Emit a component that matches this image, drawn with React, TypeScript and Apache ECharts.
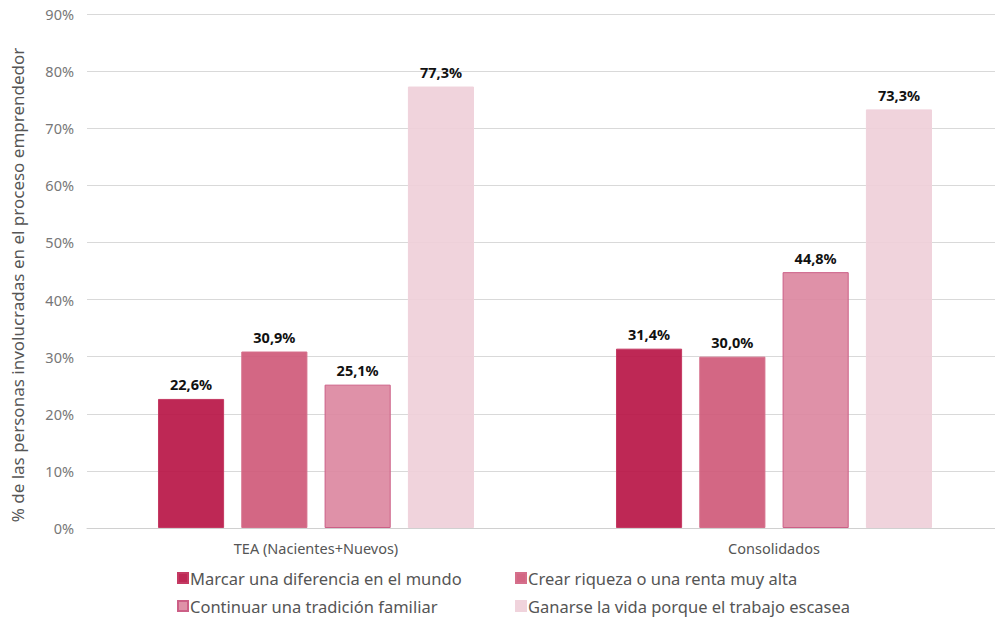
import React, { useEffect, useRef } from "react";
import * as echarts from "echarts";

const categories = ["TEA (Nacientes+Nuevos)", "Consolidados"];
const seriesNames = [
  "Marcar una diferencia en el mundo",
  "Crear riqueza o una renta muy alta",
  "Continuar una tradición familiar",
  "Ganarse la vida porque el trabajo escasea",
];
const marcar = [22.6, 31.4];
const crear = [30.9, 30.0];
const continuar = [25.1, 44.8];
const ganarse = [77.3, 73.3];
const seriesValues = [marcar, crear, continuar, ganarse];
const yAxisTitle = "% de las personas involucradas en el proceso emprendedor";

const colors = [
  "rgba(183,17,66,0.9)",
  "rgba(206,87,119,0.9)",
  "rgba(219,133,158,0.9)",
  "rgba(238,206,216,0.9)",
];
const borders = ["#C43A63", "#D56F8B", "#CC5F86", "#F0D3DC"];
const FONT = "Noto Sans";

const legendPos = [
  { left: 177, top: 568 },
  { left: 515, top: 568 },
  { left: 177, top: 596 },
  { left: 515, top: 596 },
];

export default function App() {
  const ref = useRef<HTMLDivElement>(null);
  useEffect(() => {
    if (!ref.current) return;
    const chart = echarts.init(ref.current, undefined, { renderer: "svg" });
    chart.setOption({
      animation: false,
      textStyle: { fontFamily: FONT },
      grid: { left: 87, width: 916, top: 14, height: 514, outerBoundsMode: "none", containLabel: false },
      graphic: [
        {
          type: "text",
          x: 17,
          y: 285,
          rotation: Math.PI / 2,
          style: {
            text: yAxisTitle,
            fill: "#555",
            fontSize: 17,
            fontFamily: FONT,
            align: "center",
            verticalAlign: "middle",
          },
        },
      ],
      legend: seriesNames.map((n, i) => ({
        left: legendPos[i].left,
        top: legendPos[i].top,
        padding: 0,
        itemWidth: 10,
        itemHeight: 10,
        itemGap: 0,
        icon: "rect",
        data: [n],
        textStyle: { color: "#555", fontSize: 16.5, fontFamily: FONT, lineHeight: 20, padding: [0, 0, 0, -3] },
      })),
      xAxis: {
        type: "category",
        data: categories,
        axisTick: { show: false },
        axisLine: { lineStyle: { color: "#d0d0d0" } },
        axisLabel: { color: "#555", fontSize: 14.5, margin: 12, fontFamily: FONT },
      },
      yAxis: {
        type: "value",
        min: 0,
        max: 90,
        interval: 10,
        axisLabel: { color: "#777", fontSize: 14.5, margin: 13, formatter: "{value}%", fontFamily: FONT },
        splitLine: { lineStyle: { color: "#d9d9d9" } },
        axisLine: { show: false },
        axisTick: { show: false },
      },
      series: seriesValues.map((vals, i) => ({
        name: seriesNames[i],
        type: "bar",
        data: vals,
        barGap: "26%",
        barCategoryGap: "31%",
        itemStyle: { color: colors[i], borderColor: borders[i], borderWidth: 1 },
        z: 3,
        label: {
          show: true,
          position: "top",
          distance: 7,
          color: "#111",
          fontWeight: "bold",
          fontSize: 14.5,
          fontFamily: FONT,
          formatter: (p: any) => p.value.toFixed(1).replace(".", ",") + "%",
        },
      })),
    });
    return () => chart.dispose();
  }, []);
  return <div ref={ref} style={{ width: 995, height: 618, position: "absolute", left: 0, top: 0 }} />;
}
